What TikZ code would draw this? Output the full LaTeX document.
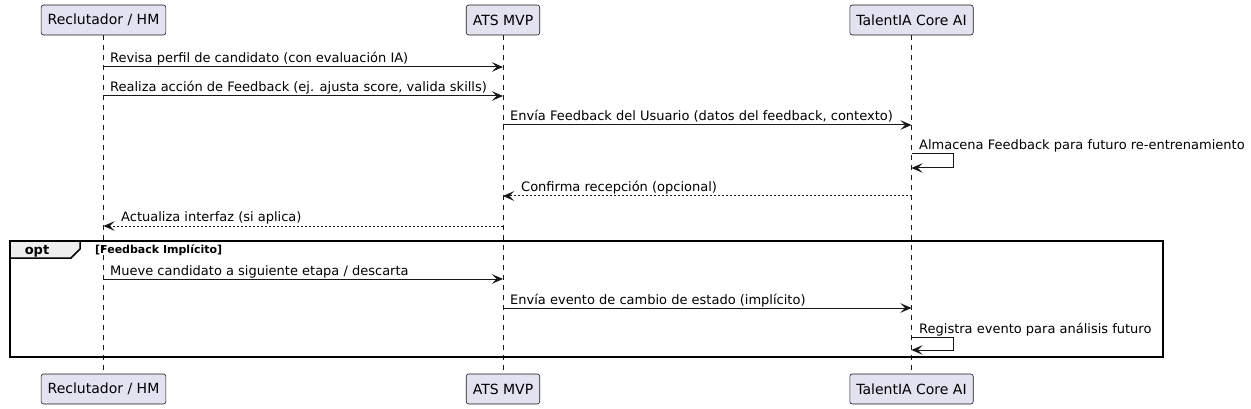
\documentclass[tikz,border=0pt]{standalone}
\usepackage{fontspec}
\setmainfont{DejaVu Sans}
\usetikzlibrary{arrows.meta}
\definecolor{ln}{HTML}{181818}
\definecolor{pfill}{HTML}{E2E2F0}
\definecolor{tabfill}{HTML}{EEEEEE}
\begin{document}
\begin{tikzpicture}[x=1pt,y=-1pt,
 part/.style={draw=ln, fill=pfill, line width=0.6pt, rounded corners=2.5pt, minimum height=30pt, inner xsep=6.5pt, font=\fontsize{14}{16}\selectfont},
 life/.style={draw=ln, line width=0.5pt, dash pattern=on 5pt off 5pt},
 msg/.style={draw=ln, line width=1pt, -{Stealth[length=11pt,width=9.5pt,inset=4.5pt]}},
 ret/.style={msg, dash pattern=on 2pt off 2pt},
 lbl/.style={anchor=base west, inner sep=0pt, font=\fontsize{13}{15}\selectfont, text=black},
 frame/.style={draw=black, line width=1.5pt},
 tab/.style={draw=black, line width=1.5pt, fill=tabfill}]
\useasboundingbox (0,0) rectangle (1251,409);
% participants
\node[part] (rec) at (103.5,20) {Reclutador / HM};
\node[part] (ats) at (503,20) {ATS MVP};
\node[part] (tal) at (911.5,20) {TalentIA Core AI};
\node[part] (rec2) at (103.5,389) {Reclutador / HM};
\node[part] (ats2) at (503,389) {ATS MVP};
\node[part] (tal2) at (911.5,389) {TalentIA Core AI};
% lifelines
\draw[life] (rec) -- (rec2);
\draw[life] (ats) -- (ats2);
\draw[life] (tal) -- (tal2);
% opt frame
\draw[frame] (10,241) rectangle (1163,357);
\draw[tab] (10,241) -- (80,241) -- (80,249) -- (71,258) -- (10,258) -- cycle;
\node[anchor=base, inner sep=0pt, font=\fontsize{13}{15}\selectfont\bfseries] (optl) at (37,254) {opt};
\node[anchor=base west, inner sep=0pt, font=\fontsize{11}{13}\selectfont\bfseries] (guard) at (95,253) {[Feedback Implícito]};
% messages
\draw[msg] (rec.south |- 0,67) -- (ats.south |- 0,67);
\node[lbl] (m1) at (110,63) {Revisa perfil de candidato (con evaluación IA)};
\draw[msg] (rec.south |- 0,96) -- (ats.south |- 0,96);
\node[lbl] (m2) at (110,92) {Realiza acción de Feedback (ej. ajusta score, valida skills)};
\draw[msg] (ats.south |- 0,125) -- (tal.south |- 0,125);
\node[lbl] (m3) at (510,121) {Envía Feedback del Usuario (datos del feedback, contexto)};
\draw[msg] (tal.south |- 0,154) -- ++(42,0) -- ++(0,14) -- (tal.south |- 0,168);
\node[lbl] (m4) at (919,150) {Almacena Feedback para futuro re-entrenamiento};
\draw[ret] (tal.south |- 0,196) -- (ats.south |- 0,196);
\node[lbl] (m5) at (521,192) {Confirma recepción (opcional)};
\draw[ret] (ats.south |- 0,226) -- (rec.south |- 0,226);
\node[lbl] (m6) at (121,222) {Actualiza interfaz (si aplica)};
\draw[msg] (rec.south |- 0,279) -- (ats.south |- 0,279);
\node[lbl] (m7) at (110,275) {Mueve candidato a siguiente etapa / descarta};
\draw[msg] (ats.south |- 0,308) -- (tal.south |- 0,308);
\node[lbl] (m8) at (510,304) {Envía evento de cambio de estado (implícito)};
\draw[msg] (tal.south |- 0,337) -- ++(42,0) -- ++(0,13) -- (tal.south |- 0,350);
\node[lbl] (m9) at (919,333) {Registra evento para análisis futuro};
\end{tikzpicture}
\end{document}
